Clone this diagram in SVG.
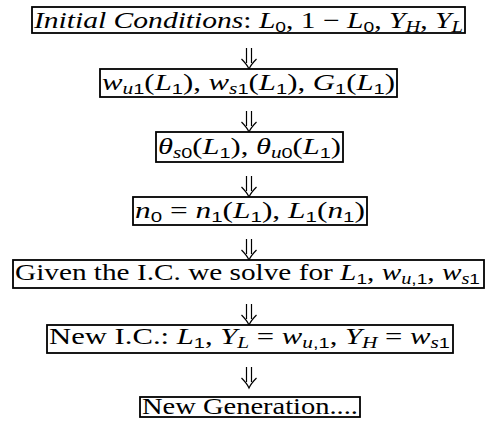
<svg xmlns="http://www.w3.org/2000/svg" xmlns:xlink="http://www.w3.org/1999/xlink" width="486" height="421" viewBox="0 0 486 421">
<style>
.bx{fill:#fff;stroke:#000;stroke-width:1.8}
.t{font-family:"Liberation Serif",serif;font-size:23px;fill:#000}
.i{font-style:italic}
.s{font-family:"Liberation Sans",sans-serif;font-size:15px}
.si{font-style:italic;font-size:16px}
.ar{fill:none;stroke:#000;stroke-width:1.2}
</style>
<defs>
<g id="dn" class="ar">
<path d="M-2.5,-21 V-6 M2.5,-21 V-6"/>
<path d="M-7.5,-10 C-4.5,-7 -1.5,-3.5 0,0 C1.5,-3.5 4.5,-7 7.5,-10"/>
</g>
</defs>
<rect width="486" height="421" fill="#fff"/>
<g id="connectors">
<use xlink:href="#dn" x="249" y="69"/>
<use xlink:href="#dn" x="249" y="132"/>
<use xlink:href="#dn" x="249" y="197"/>
<use xlink:href="#dn" x="249" y="260"/>
<use xlink:href="#dn" x="249" y="325"/>
<use xlink:href="#dn" x="249" y="388"/>
</g>
<g id="n1">
<rect class="bx" x="32" y="7" width="433" height="26"/>
<text class="t" x="34" y="28" textLength="429" lengthAdjust="spacingAndGlyphs"><tspan class="i">Initial Conditions</tspan>: <tspan class="i">L</tspan><tspan class="s" dy="4">0</tspan><tspan dy="-4">, 1 − </tspan><tspan class="i">L</tspan><tspan class="s" dy="4">0</tspan><tspan dy="-4">, </tspan><tspan class="i">Y</tspan><tspan class="si" dy="4">H</tspan><tspan dy="-4">, </tspan><tspan class="i">Y</tspan><tspan class="si" dy="4">L</tspan></text>
</g>
<g id="n2">
<rect class="bx" x="100" y="69" width="297" height="28"/>
<text class="t" x="102" y="90" textLength="293" lengthAdjust="spacingAndGlyphs"><tspan class="i">w</tspan><tspan class="si" dy="4">u</tspan><tspan class="s">1</tspan><tspan dy="-4">(</tspan><tspan class="i">L</tspan><tspan class="s" dy="4">1</tspan><tspan dy="-4">), </tspan><tspan class="i">w</tspan><tspan class="si" dy="4">s</tspan><tspan class="s">1</tspan><tspan dy="-4">(</tspan><tspan class="i">L</tspan><tspan class="s" dy="4">1</tspan><tspan dy="-4">), </tspan><tspan class="i">G</tspan><tspan class="s" dy="4">1</tspan><tspan dy="-4">(</tspan><tspan class="i">L</tspan><tspan class="s" dy="4">1</tspan><tspan dy="-4">)</tspan></text>
</g>
<g id="n3">
<rect class="bx" x="156" y="132" width="187" height="30"/>
<text class="t" x="158" y="154" textLength="183" lengthAdjust="spacingAndGlyphs"><tspan class="i">θ</tspan><tspan class="si" dy="4">s</tspan><tspan class="s">0</tspan><tspan dy="-4">(</tspan><tspan class="i">L</tspan><tspan class="s" dy="4">1</tspan><tspan dy="-4">), </tspan><tspan class="i">θ</tspan><tspan class="si" dy="4">u</tspan><tspan class="s">0</tspan><tspan dy="-4">(</tspan><tspan class="i">L</tspan><tspan class="s" dy="4">1</tspan><tspan dy="-4">)</tspan></text>
</g>
<g id="n4">
<rect class="bx" x="133" y="197" width="234" height="28"/>
<text class="t" x="135" y="218" textLength="230" lengthAdjust="spacingAndGlyphs"><tspan class="i">n</tspan><tspan class="s" dy="4">0</tspan><tspan dy="-4"> = </tspan><tspan class="i">n</tspan><tspan class="s" dy="4">1</tspan><tspan dy="-4">(</tspan><tspan class="i">L</tspan><tspan class="s" dy="4">1</tspan><tspan dy="-4">), </tspan><tspan class="i">L</tspan><tspan class="s" dy="4">1</tspan><tspan dy="-4">(</tspan><tspan class="i">n</tspan><tspan class="s" dy="4">1</tspan><tspan dy="-4">)</tspan></text>
</g>
<g id="n5">
<rect class="bx" x="13" y="260" width="471" height="28"/>
<text class="t" x="15" y="280" textLength="465" lengthAdjust="spacingAndGlyphs">Given the I.C. we solve for <tspan class="i">L</tspan><tspan class="s" dy="4">1</tspan><tspan dy="-4">, </tspan><tspan class="i">w</tspan><tspan class="si" dy="4">u</tspan><tspan class="s">,1</tspan><tspan dy="-4">, </tspan><tspan class="i">w</tspan><tspan class="si" dy="4">s</tspan><tspan class="s">1</tspan></text>
</g>
<g id="n6">
<rect class="bx" x="47" y="325" width="406" height="28"/>
<text class="t" x="49" y="344" textLength="401" lengthAdjust="spacingAndGlyphs">New I.C.: <tspan class="i">L</tspan><tspan class="s" dy="4">1</tspan><tspan dy="-4">, </tspan><tspan class="i">Y</tspan><tspan class="si" dy="4">L</tspan><tspan dy="-4"> = </tspan><tspan class="i">w</tspan><tspan class="si" dy="4">u</tspan><tspan class="s">,1</tspan><tspan dy="-4">, </tspan><tspan class="i">Y</tspan><tspan class="si" dy="4">H</tspan><tspan dy="-4"> = </tspan><tspan class="i">w</tspan><tspan class="si" dy="4">s</tspan><tspan class="s">1</tspan></text>
</g>
<g id="n7">
<rect class="bx" x="140" y="397" width="220" height="20"/>
<text class="t" x="142" y="414" textLength="216" lengthAdjust="spacingAndGlyphs">New Generation....</text>
</g>
</svg>
